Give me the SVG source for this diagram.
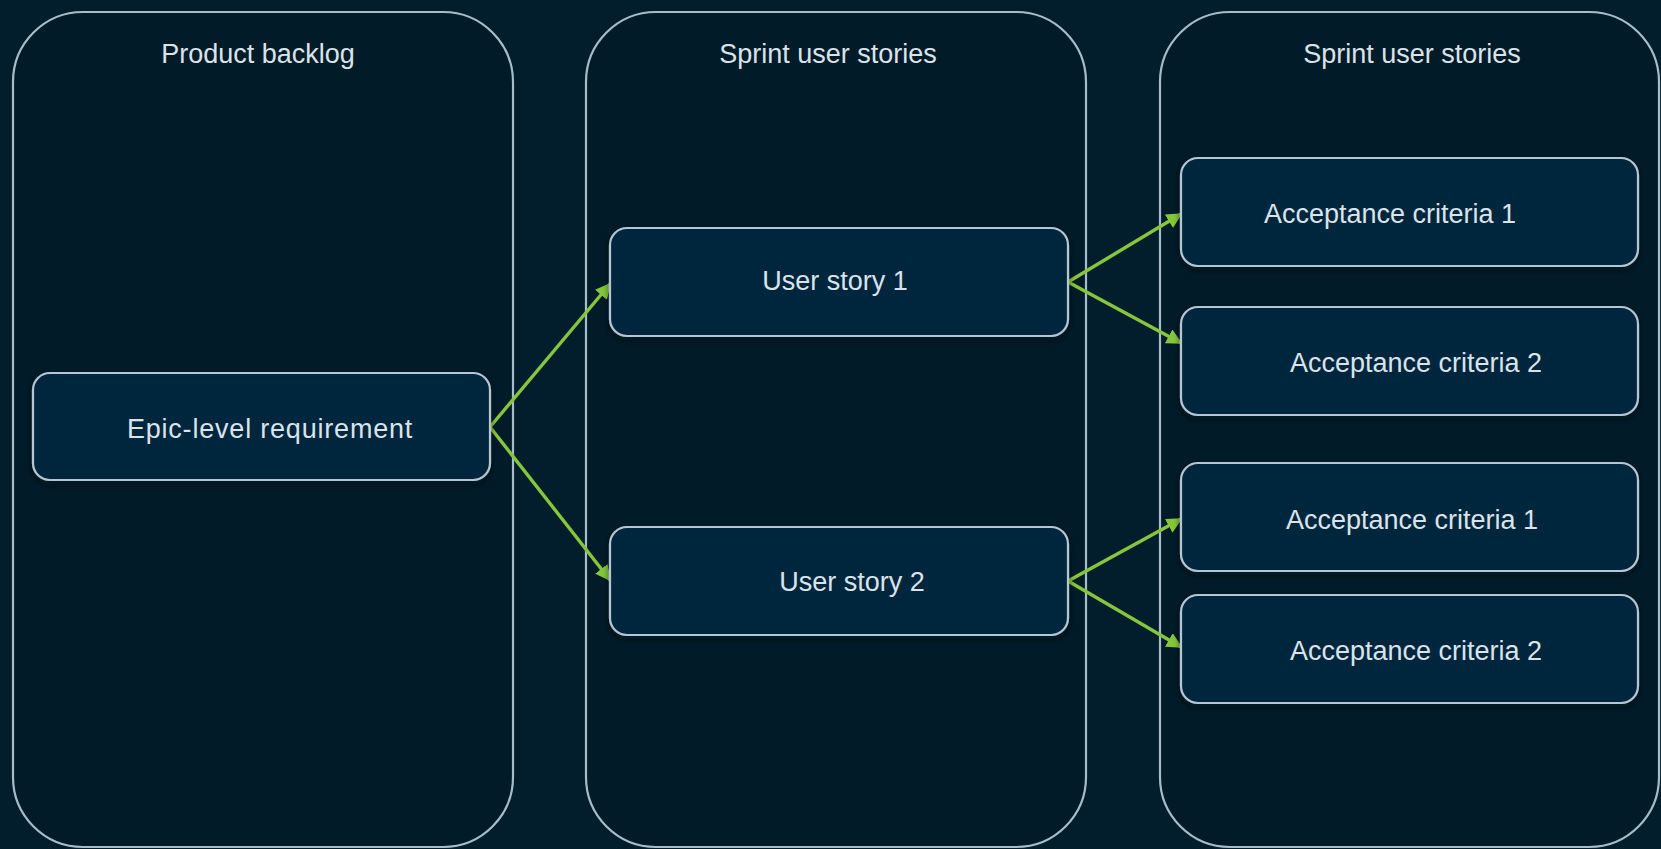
<svg xmlns="http://www.w3.org/2000/svg" width="1661" height="849" viewBox="0 0 1661 849">
  <defs>
    <style>
      .lane { fill: #011b28; stroke: #a7bccb; stroke-width: 2.2; }
      .box { fill: #03283c; stroke: #b4c6d3; stroke-width: 2.2; filter: url(#shadow); }
      .title, .label { font-family: "Liberation Sans", Arial, sans-serif; font-size: 27px; fill: #dbe3ea; text-anchor: middle; }
      .edge { fill: none; stroke: #86c63c; stroke-width: 3.4; marker-end: url(#arrow); }
    </style>
    <marker id="arrow" viewBox="0 0 10 10" refX="9" refY="5" markerWidth="4.6" markerHeight="4.6" markerUnits="strokeWidth" orient="auto">
      <path d="M0,0 L10,5 L0,10 Z" fill="#86c63c"/>
    </marker>
    <filter id="shadow" x="-5%" y="-10%" width="110%" height="130%">
      <feDropShadow dx="0" dy="3" stdDeviation="3" flood-color="#000a10" flood-opacity="0.6"/>
    </filter>
  </defs>

  <rect width="1661" height="849" fill="#021e2c"/>

  <!-- swimlanes -->
  <g id="lane-backlog">
    <rect class="lane" x="13" y="12" width="500" height="835" rx="70" ry="70"/>
    <text class="title" x="258" y="63">Product backlog</text>
  </g>
  <g id="lane-sprint">
    <rect class="lane" x="586" y="12" width="500" height="835" rx="70" ry="70"/>
    <text class="title" x="828" y="63">Sprint user stories</text>
  </g>
  <g id="lane-criteria">
    <rect class="lane" x="1160" y="12" width="499" height="835" rx="70" ry="70"/>
    <text class="title" x="1412" y="63">Sprint user stories</text>
  </g>

  <!-- connectors -->
  <g id="connectors">
    <line class="edge" x1="490" y1="427" x2="610" y2="284"/>
    <line class="edge" x1="490" y1="427" x2="610" y2="580"/>
    <line class="edge" x1="1068" y1="282" x2="1181" y2="214"/>
    <line class="edge" x1="1068" y1="282" x2="1181" y2="343"/>
    <line class="edge" x1="1068" y1="581" x2="1181" y2="519"/>
    <line class="edge" x1="1068" y1="581" x2="1181" y2="647"/>
  </g>

  <!-- nodes -->
  <g id="epic">
    <rect class="box" x="33" y="373" width="457" height="107" rx="17"/>
    <text class="label" x="270" y="438" letter-spacing="0.8">Epic-level requirement</text>
  </g>
  <g id="story-1">
    <rect class="box" x="610" y="228" width="458" height="108" rx="17"/>
    <text class="label" x="835" y="290">User story 1</text>
  </g>
  <g id="story-2">
    <rect class="box" x="610" y="527" width="458" height="108" rx="17"/>
    <text class="label" x="852" y="591">User story 2</text>
  </g>
  <g id="criteria-1a">
    <rect class="box" x="1181" y="158" width="457" height="108" rx="17"/>
    <text class="label" x="1390" y="223">Acceptance criteria 1</text>
  </g>
  <g id="criteria-2a">
    <rect class="box" x="1181" y="307" width="457" height="108" rx="17"/>
    <text class="label" x="1416" y="372">Acceptance criteria 2</text>
  </g>
  <g id="criteria-1b">
    <rect class="box" x="1181" y="463" width="457" height="108" rx="17"/>
    <text class="label" x="1412" y="529">Acceptance criteria 1</text>
  </g>
  <g id="criteria-2b">
    <rect class="box" x="1181" y="595" width="457" height="108" rx="17"/>
    <text class="label" x="1416" y="660">Acceptance criteria 2</text>
  </g>
</svg>
